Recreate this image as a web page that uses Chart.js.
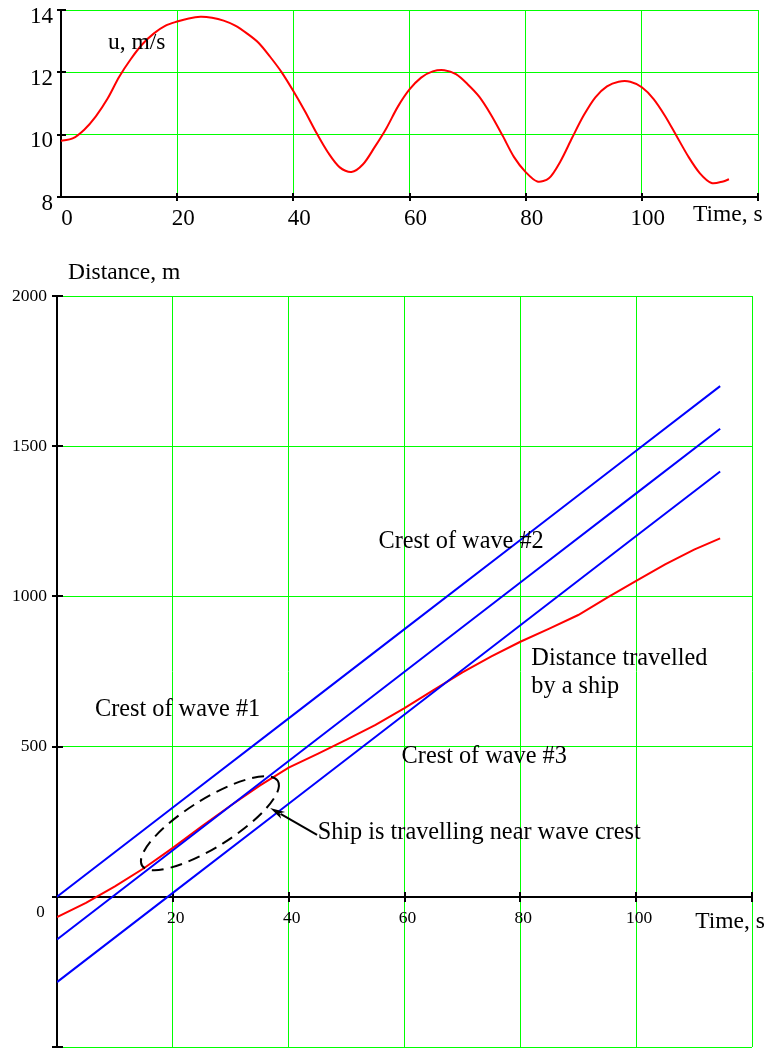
<!DOCTYPE html>
<html><head><meta charset="utf-8">
<script src="https://cdn.jsdelivr.net/npm/chart.js@4.4.1/dist/chart.umd.min.js"></script>
<style>
html,body{margin:0;padding:0;background:#fff;}
#wrap{position:relative;width:767px;height:1049px;overflow:hidden;background:#fff;}
#c1{position:absolute;left:0;top:0;}
#c2{position:absolute;left:0;top:240px;}
</style></head><body>
<div id="wrap">
<canvas id="c1" width="767" height="235"></canvas>
<canvas id="c2" width="767" height="809"></canvas>
</div>
<script>
// ---------- DATA ----------
// Top chart: ship speed u (m/s) vs time (s)
const speedTimes  = [0,2,4,6,8,10,12,14,16,18,20,22,24,26,28,30,32,34,36,38,40,42,44,46,48,50,52,54,56,58,
                     60,62,64,66,68,70,72,74,76,78,80,82,84,86,88,90,92,94,96,98,100,102,104,106,108,110,112,114,115];
const speedValues = [9.80,9.88,10.16,10.59,11.15,11.85,12.42,12.90,13.25,13.50,13.63,13.73,13.78,13.75,13.66,13.50,13.25,12.95,12.50,12.00,
                     11.40,10.75,10.05,9.42,8.95,8.80,9.05,9.60,10.20,10.90,
                     11.45,11.83,12.03,12.07,11.94,11.62,11.22,10.65,9.98,9.28,8.80,8.50,8.60,9.15,9.90,10.62,11.20,11.55,11.70,11.70,
                     11.52,11.15,10.60,9.95,9.30,8.76,8.45,8.50,8.57];
const topXTicks = {0:'0',20:'20',40:'40',60:'60',80:'80',100:'100',120:''};
const topYTicks = {8:'8',10:'10',12:'12',14:'14'};

// Bottom chart: distance (m) vs time (s)
const shipTimes    = [0,5,10,15,20,25,30,35,40,45,50,55,60,65,70,75,80,85,90,95,100,105,110,114.5];
const shipDistance = [-68,-20,35,95,163,235,304,370,430,476,523,572,628,688,747,800,849,893,938,996,1052,1107,1156,1193];
const waveTimes = [0,20,40,60,80,100,114.5];
const wave1 = [0,297,594,891,1188,1485,1700];
const wave2 = [-142,155,452,749,1046,1343,1558];
const wave3 = [-284,13,310,607,904,1201,1416];
const botXTicks = {0:'',20:'20',40:'40',60:'60',80:'80',100:'100',120:''};
const botYTicks = {'-500':'',0:'',500:'500',1000:'1000',1500:'1500',2000:'2000'};

// ---------- STYLE ----------
const SERIF = '"Liberation Serif","Times New Roman",Times,serif';
const GREEN = '#00ff00';
Chart.defaults.font.family = SERIF;
Chart.defaults.color = '#000';

function pts(xs, ys){ return xs.map((x,i)=>({x:x, y:ys[i]})); }

const tickCross = {
  id:'tickCross',
  beforeDatasetsDraw(chart, args, o){
    const ctx = chart.ctx, xs = chart.scales.x, ys = chart.scales.y, ca = chart.chartArea;
    const axisY = (o.xAxisAt !== undefined) ? Math.round(ys.getPixelForValue(o.xAxisAt)) : ca.bottom;
    const axisX = ca.left;
    ctx.save();
    ctx.strokeStyle = '#000'; ctx.lineWidth = 2;
    xs.ticks.forEach(t=>{
      if (t.value === xs.min) return;
      const p = Math.round(xs.getPixelForValue(t.value));
      ctx.beginPath(); ctx.moveTo(p, axisY - o.len); ctx.lineTo(p, axisY + o.len); ctx.stroke();
    });
    ys.ticks.forEach(t=>{
      const p = Math.round(ys.getPixelForValue(t.value));
      ctx.beginPath(); ctx.moveTo(axisX - o.len, p); ctx.lineTo(axisX + o.len + 1, p); ctx.stroke();
    });
    ctx.restore();
  }
};

const annot = {
  id:'annot',
  afterDraw(chart, args, o){
    const ctx = chart.ctx, xs = chart.scales.x, ys = chart.scales.y;
    ctx.save();
    ctx.fillStyle = '#000';
    ctx.textBaseline = 'alphabetic';
    (o.texts || []).forEach(t=>{
      ctx.font = t.size + 'px ' + SERIF;
      ctx.textAlign = t.align || 'left';
      ctx.fillText(t.text, xs.getPixelForValue(t.x), ys.getPixelForValue(t.y));
    });
    if (o.ellipse){
      const e = o.ellipse;
      ctx.strokeStyle = '#000'; ctx.lineWidth = 2; ctx.setLineDash([12,7]);
      ctx.beginPath();
      ctx.ellipse(xs.getPixelForValue(e.x), ys.getPixelForValue(e.y), e.rx, e.ry, e.rot*Math.PI/180, 0, Math.PI*2);
      ctx.stroke();
      ctx.setLineDash([]);
    }
    if (o.arrow){
      const a = o.arrow;
      const x1 = xs.getPixelForValue(a.x1), y1 = ys.getPixelForValue(a.y1);
      const x2 = xs.getPixelForValue(a.x2), y2 = ys.getPixelForValue(a.y2);
      const ang = Math.atan2(y2-y1, x2-x1);
      const L = 15, W = 4;
      ctx.strokeStyle = '#000'; ctx.lineWidth = 2;
      ctx.beginPath(); ctx.moveTo(x1,y1);
      ctx.lineTo(x2 - (L-3)*Math.cos(ang), y2 - (L-3)*Math.sin(ang)); ctx.stroke();
      ctx.beginPath();
      ctx.moveTo(x2, y2);
      ctx.lineTo(x2 - L*Math.cos(ang) + W*Math.sin(ang), y2 - L*Math.sin(ang) - W*Math.cos(ang));
      ctx.lineTo(x2 - (L-4)*Math.cos(ang), y2 - (L-4)*Math.sin(ang));
      ctx.lineTo(x2 - L*Math.cos(ang) - W*Math.sin(ang), y2 - L*Math.sin(ang) + W*Math.cos(ang));
      ctx.closePath(); ctx.fillStyle = '#000'; ctx.fill();
    }
    ctx.restore();
  }
};

function gridColor(edgeValue){
  return ctx => (ctx.tick && ctx.tick.value === edgeValue) ? 'rgba(0,0,0,0)' : GREEN;
}

// ---------- TOP CHART ----------
new Chart(document.getElementById('c1'), {
  type:'line',
  data:{ datasets:[{ data: pts(speedTimes, speedValues), borderColor:'#ff0000', borderWidth:2,
                     pointRadius:0, tension:0.3, fill:false }] },
  options:{
    responsive:false, animation:false, devicePixelRatio:1,
    layout:{ autoPadding:false, padding:{ top:10, right:9, left:0, bottom:0 } },
    plugins:{
      legend:{display:false}, tooltip:{enabled:false},
      tickCross:{ len:4 },
      annot:{ texts:[
        { text:'u, m/s', x:8.1, y:12.74, size:23.5 },
        { text:'Time, s', x:108.8, y:7.23, size:23.5 }
      ]}
    },
    scales:{
      x:{ type:'linear', min:0, max:120,
          ticks:{ stepSize:20, autoSkip:false, maxRotation:0, padding:8, labelOffset:6,
                  font:{ size:23, family:SERIF }, color:'#000',
                  callback: v => (topXTicks[v] !== undefined ? topXTicks[v] : '') },
          grid:{ color: gridColor(0), lineWidth:1, drawTicks:false },
          border:{ display:true, color:'#000', width:2 },
          afterFit: s => { s.height = 235 - 197; s.paddingLeft = 0; s.paddingRight = 0; } },
      y:{ type:'linear', min:8, max:14,
          ticks:{ stepSize:2, autoSkip:false, padding:8, labelOffset:6.5,
                  font:{ size:23, family:SERIF }, color:'#000',
                  callback: v => (topYTicks[v] !== undefined ? topYTicks[v] : '') },
          grid:{ color: gridColor(8), lineWidth:1, drawTicks:false },
          border:{ display:true, color:'#000', width:2 },
          afterFit: s => { s.width = 61; s.paddingTop = 0; s.paddingBottom = 0; } }
    }
  },
  plugins:[tickCross, annot]
});

// ---------- BOTTOM CHART ----------
const lineStyle = (color) => ({ borderColor:color, borderWidth:2, pointRadius:0, tension:0, fill:false });
new Chart(document.getElementById('c2'), {
  type:'line',
  data:{ datasets:[
    Object.assign({ data: pts(waveTimes, wave1) }, lineStyle('#0000ff')),
    Object.assign({ data: pts(waveTimes, wave2) }, lineStyle('#0000ff')),
    Object.assign({ data: pts(waveTimes, wave3) }, lineStyle('#0000ff')),
    Object.assign({ data: pts(shipTimes, shipDistance) }, lineStyle('#ff0000'))
  ]},
  options:{
    responsive:false, animation:false, devicePixelRatio:1,
    layout:{ autoPadding:false, padding:{ top:56, right:15, left:0, bottom:2 } },
    plugins:{
      legend:{display:false}, tooltip:{enabled:false},
      tickCross:{ len:5, xAxisAt:0 },
      annot:{
        texts:[
          { text:'Distance, m', x:1.9, y:2055, size:23.5 },
          { text:'Time, s', x:110.2, y:-105, size:23.5 },
          { text:'0', x:-2.1, y:-67, size:17, align:'right' },
          { text:'Crest of wave #2', x:55.5, y:1161, size:24.3 },
          { text:'Distance travelled', x:81.9, y:771, size:24.3 },
          { text:'by a ship', x:81.9, y:678, size:24.3 },
          { text:'Crest of wave #3', x:59.5, y:445, size:24.3 },
          { text:'Crest of wave #1', x:6.55, y:601, size:24.3 },
          { text:'Ship is travelling near wave crest', x:45, y:192, size:24.3 }
        ],
        ellipse:{ x:26.4, y:245, rx:80, ry:24, rot:-32 },
        arrow:{ x1:44.9, y1:206, x2:36.8, y2:296 }
      }
    },
    scales:{
      x:{ type:'linear', min:0, max:120, position:{ y:0 },
          ticks:{ stepSize:20, autoSkip:false, maxRotation:0, padding:11, labelOffset:3,
                  font:{ size:17.5, family:SERIF }, color:'#000',
                  callback: v => (botXTicks[v] !== undefined ? botXTicks[v] : '') },
          grid:{ color: gridColor(0), lineWidth:1, drawTicks:false },
          border:{ display:true, color:'#000', width:2 },
          afterFit: s => { s.paddingLeft = 0; s.paddingRight = 0; } },
      y:{ type:'linear', min:-500, max:2000,
          ticks:{ stepSize:500, autoSkip:false, padding:10,
                  font:{ size:17.5, family:SERIF }, color:'#000',
                  callback: v => (botYTicks[v] !== undefined ? botYTicks[v] : '') },
          grid:{ color: gridColor(0), lineWidth:1, drawTicks:false },
          border:{ display:true, color:'#000', width:2 },
          afterFit: s => { s.width = 57; s.paddingTop = 0; s.paddingBottom = 0; } }
    }
  },
  plugins:[tickCross, annot]
});
</script>
</body></html>
